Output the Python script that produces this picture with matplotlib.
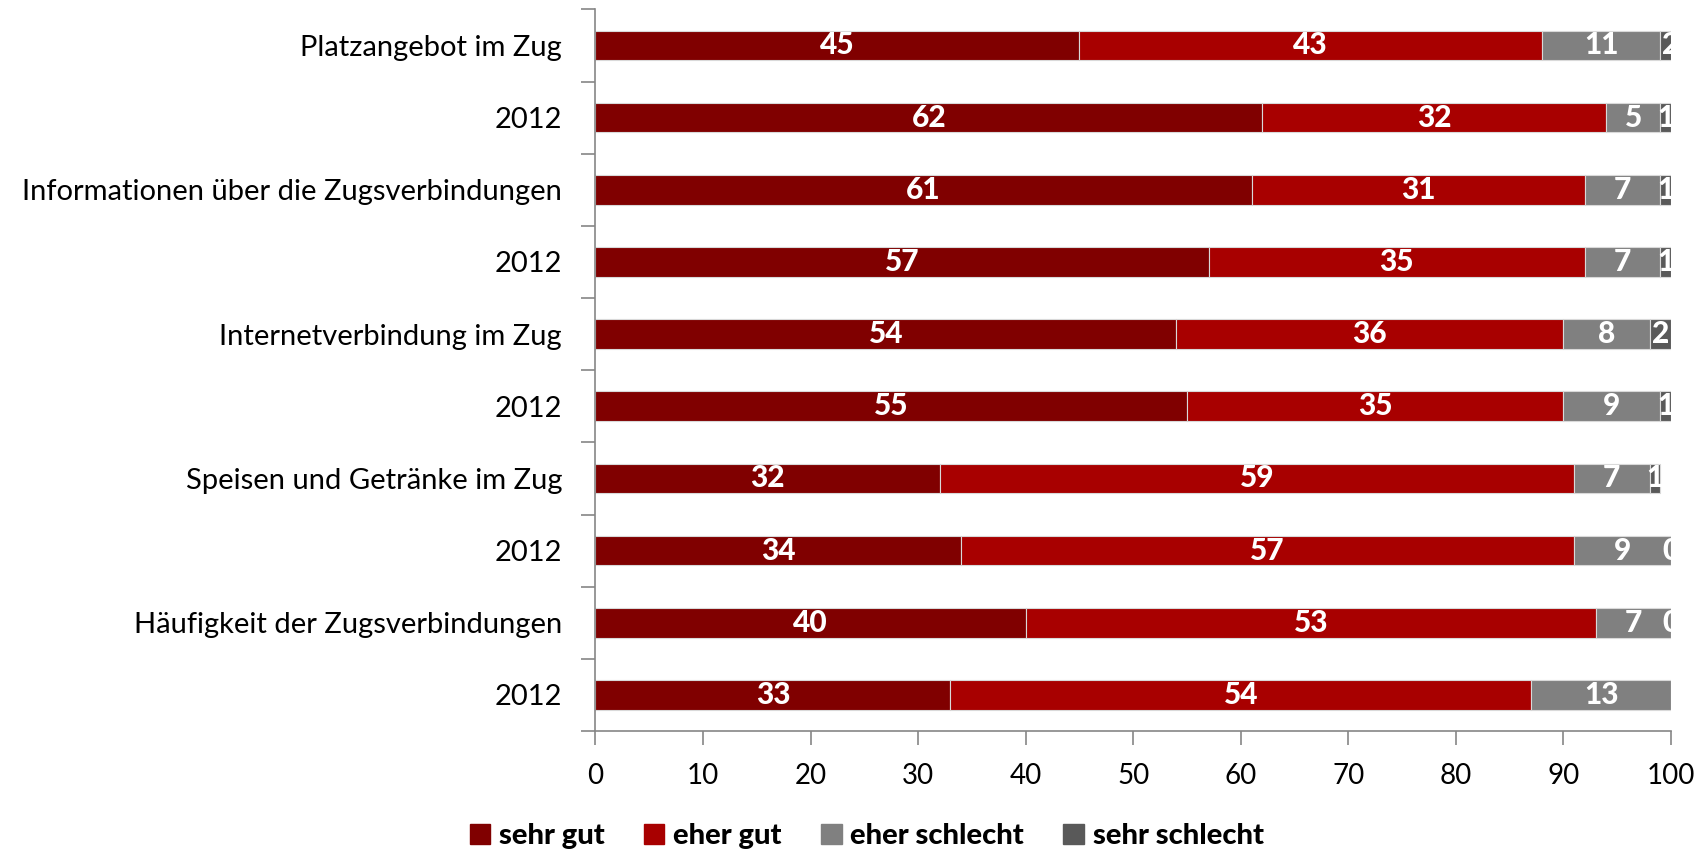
import matplotlib
matplotlib.use("Agg")
import matplotlib.pyplot as plt
from matplotlib.patches import Patch

categories = ["Platzangebot im Zug", "2012", "Informationen über die Zugsverbindungen", "2012",
              "Internetverbindung im Zug", "2012", "Speisen und Getränke im Zug", "2012",
              "Häufigkeit der Zugsverbindungen", "2012"]
sehr_gut = [45, 62, 61, 57, 54, 55, 32, 34, 40, 33]
eher_gut = [43, 32, 31, 35, 36, 35, 59, 57, 53, 54]
eher_schlecht = [11, 5, 7, 7, 8, 9, 7, 9, 7, 13]
sehr_schlecht = [2, 1, 1, 1, 2, 1, 1, 0, 0, 0.3]
sehr_schlecht_labels = ["2", "1", "1", "1", "2", "1", "1", "0", "0", None]
series_names = ["sehr gut", "eher gut", "eher schlecht", "sehr schlecht"]
colors = ["#800000", "#A80000", "#808080", "#595959"]

plt.rcParams['font.family'] = ['Lato', 'DejaVu Sans']
fig = plt.figure(figsize=(17.06, 8.5), dpi=100)
ax = fig.add_axes([0.349, 0.140, 0.6305, 0.849])

series = [sehr_gut, eher_gut, eher_schlecht, sehr_schlecht]
y = list(range(len(categories)))
left = [0] * len(categories)
for si, (vals, col) in enumerate(zip(series, colors)):
    ax.barh(y, vals, left=left, height=0.41, color=col, edgecolor="#D9D9D9", linewidth=0.8)
    for i, v in enumerate(vals):
        if si == 3:
            lab = sehr_schlecht_labels[i]
        else:
            lab = str(v)
        if lab is not None:
            ax.text(left[i] + v / 2, i, lab, ha="center", va="center", color="white",
                    fontsize=21.5, fontweight="black", clip_on=True)
    left = [l + v for l, v in zip(left, vals)]

ax.set_xlim(0, 100)
ax.set_ylim(len(categories) - 0.5, -0.5)
ax.set_xticks(range(0, 101, 10))
ax.set_yticks(y)
ax.set_yticklabels(categories)
ax.set_yticks([i - 0.5 for i in range(len(categories) + 1)], minor=True)
ax.tick_params(axis="y", which="major", length=0, pad=24, labelsize=21)
ax.tick_params(axis="y", which="minor", length=10, color="#868686", width=1.2)
ax.tick_params(axis="x", length=10, color="#868686", width=1.2, labelsize=20, pad=13)
for s in ["top", "right"]:
    ax.spines[s].set_visible(False)
for s in ["left", "bottom"]:
    ax.spines[s].set_color("#868686")
    ax.spines[s].set_linewidth(1.2)

handles = [Patch(facecolor=c, edgecolor=c) for c in colors]
leg = fig.legend(handles, series_names, loc="center", bbox_to_anchor=(0.508, 0.016),
                 ncol=4, frameon=False, prop={"size": 21, "weight": "black"},
                 handlelength=0.7, handleheight=0.7, handletextpad=0.3, columnspacing=1.35)

fig.savefig("out.png", dpi=100)
